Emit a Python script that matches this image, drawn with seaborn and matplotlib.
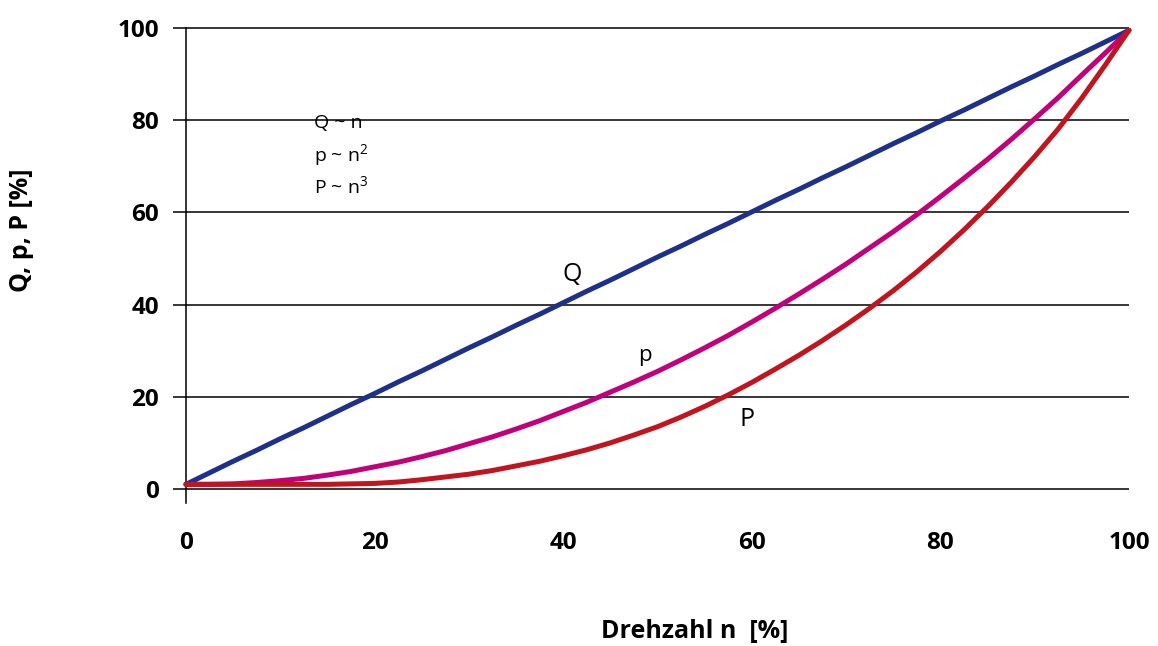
import numpy as np
import pandas as pd
import matplotlib
matplotlib.use("Agg")
import matplotlib.pyplot as plt
import seaborn as sns

# Drehzahl n [%]
n = [0, 2.5, 5, 7.5, 10, 12.5, 15, 17.5, 20, 22.5, 25, 27.5, 30, 32.5,
     35, 37.5, 40, 42.5, 45, 47.5, 50, 52.5, 55, 57.5, 60, 62.5, 65,
     67.5, 70, 72.5, 75, 77.5, 80, 82.5, 85, 87.5, 90, 92.5, 95, 97.5, 100]

# values [%]
Q = [1.0, 3.5, 6.0, 8.4, 10.9, 13.3, 15.8, 18.3, 20.7, 23.2, 25.6, 28.1,
     30.6, 33.0, 35.5, 37.9, 40.4, 42.9, 45.3, 47.8, 50.3, 52.7, 55.2,
     57.6, 60.1, 62.6, 65.0, 67.5, 69.9, 72.4, 74.9, 77.3, 79.8, 82.2,
     84.7, 87.2, 89.6, 92.1, 94.5, 97.0, 99.5]
p = [1.0, 1.0, 1.1, 1.4, 1.8, 2.3, 3.0, 3.8, 4.8, 5.8, 7.0, 8.3, 9.8,
     11.3, 13.0, 14.8, 16.8, 18.8, 21.0, 23.2, 25.5, 28.0, 30.6, 33.3,
     36.2, 39.2, 42.3, 45.5, 48.8, 52.3, 55.8, 59.5, 63.4, 67.4, 71.5,
     75.8, 80.3, 84.9, 89.8, 94.6, 99.5]
P = [1.0, 1.0, 1.0, 1.0, 1.0, 1.0, 1.0, 1.1, 1.2, 1.5, 2.0, 2.6, 3.2,
     4.0, 5.0, 6.0, 7.2, 8.5, 10.0, 11.7, 13.5, 15.6, 17.9, 20.4, 23.1,
     26.0, 29.0, 32.2, 35.6, 39.2, 43.0, 47.1, 51.5, 56.2, 61.2, 66.5,
     72.1, 78.1, 84.8, 92.0, 99.5]

ticks = [0, 20, 40, 60, 80, 100]

colors = {"Q": "#1e318a", "p": "#c2007a", "P": "#c1141f"}

sns.set_theme(style="white")
plt.rcParams["font.family"] = ["Open Sans", "DejaVu Sans"]
plt.rcParams["mathtext.default"] = "regular"
plt.rcParams["text.color"] = "black"
plt.rcParams["xtick.color"] = "black"
plt.rcParams["ytick.color"] = "black"

df = pd.DataFrame({"n": n * 3,
                   "value": Q + p + P,
                   "series": ["Q"] * len(n) + ["p"] * len(n) + ["P"] * len(n)})

fig = plt.figure(figsize=(11.58, 6.46), dpi=100)
ax = fig.add_axes([0.1606, 0.2217, 0.8143, 0.7385])

for name in ["Q", "p", "P"]:
    sub = df[df["series"] == name]
    sns.lineplot(data=sub, x="n", y="value", ax=ax, color=colors[name],
                 linewidth=3.6, clip_on=False, zorder=3,
                 solid_joinstyle="round", solid_capstyle="round")

ax.set_xlim(0, 100)
ax.set_ylim(-3, 100.5)
ax.set_xticks(ticks)
ax.set_yticks(ticks)
ax.set_xticklabels([str(t) for t in ticks], fontsize=17.5, fontweight="bold")
ax.set_yticklabels([str(t) for t in ticks], fontsize=17.5, fontweight="bold")
ax.tick_params(axis="x", length=0, pad=20)
ax.tick_params(axis="y", direction="out", length=9.5, width=1.1, color="black", pad=10, left=True)
ax.yaxis.grid(True, color="black", linewidth=1.1)
ax.xaxis.grid(False)
for side in ["top", "right", "bottom"]:
    ax.spines[side].set_visible(False)
ax.spines["left"].set_color("black")
ax.spines["left"].set_linewidth(1.1)
ax.spines["left"].set_bounds(-3, 100)
ax.set_xlabel("")
ax.set_ylabel("")

# curve labels
ax.text(41, 46.5, "Q", fontsize=18, ha="center", va="center")
ax.text(48.7, 29, "p", fontsize=16, ha="center", va="center")
ax.text(59.5, 15, "P", fontsize=18, ha="center", va="center")

# proportionality notes
ax.text(13.6, 79.3, "Q ~ n", fontsize=14, ha="left", va="center")
ax.text(13.6, 72.5, "p ~ n$^2$", fontsize=14, ha="left", va="center")
ax.text(13.6, 65.6, "P ~ n$^3$", fontsize=14, ha="left", va="center")

fig.text(695 / 1158, 1 - 631 / 646, "Drehzahl n  [%]", fontsize=18,
         fontweight="bold", ha="center", va="center")
fig.text(22 / 1158, 1 - 230 / 646, "Q, p, P [%]", fontsize=18,
         fontweight="bold", ha="center", va="center", rotation=90)

fig.savefig("out.png", dpi=100)
